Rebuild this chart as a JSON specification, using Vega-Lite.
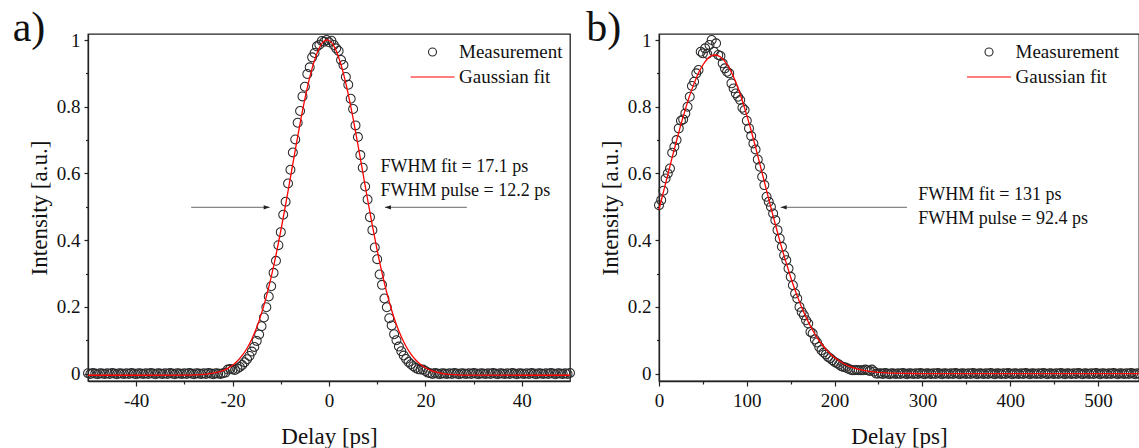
{
  "$schema": "https://vega.github.io/schema/vega-lite/v6.json",
  "autosize": {"type": "none"},
  "padding": {"left": 88, "top": 34, "right": 1051, "bottom": 414},
  "config": {
    "font": "Liberation Serif",
    "view": {"stroke": "#222", "strokeWidth": 1.3},
    "axis": {"grid": false, "labelFontSize": 19, "labelColor": "#111", "titleFontSize": 23, "titleFontWeight": "normal", "titleColor": "#111", "domainColor": "#222", "tickColor": "#222", "domainWidth": 1.3, "tickWidth": 1.2, "labelOverlap": false, "labelFlush": false},
    "legend": {"labelFontSize": 19, "labelColor": "#111", "labelFont": "Liberation Serif"},
    "title": {"font": "Liberation Serif"}
  },
  "datasets": {
    "Lmeas": [
      {"x":-50,"y":0.001},{"x":-49.5,"y":-0.001},{"x":-49,"y":0.002},{"x":-48.5,"y":0},{"x":-48,"y":-0.002},{"x":-47.5,"y":0.001},{"x":-47,"y":0},{"x":-46.5,"y":-0.001},
      {"x":-46,"y":0.001},{"x":-45.5,"y":-0.001},{"x":-45,"y":0.002},{"x":-44.5,"y":0},{"x":-44,"y":-0.002},{"x":-43.5,"y":0.001},{"x":-43,"y":0},{"x":-42.5,"y":-0.001},
      {"x":-42,"y":0.001},{"x":-41.5,"y":-0.001},{"x":-41,"y":0.002},{"x":-40.5,"y":0},{"x":-40,"y":-0.002},{"x":-39.5,"y":0.001},{"x":-39,"y":0},{"x":-38.5,"y":-0.001},
      {"x":-38,"y":0.001},{"x":-37.5,"y":-0.001},{"x":-37,"y":0.002},{"x":-36.5,"y":0},{"x":-36,"y":-0.002},{"x":-35.5,"y":0.001},{"x":-35,"y":0},{"x":-34.5,"y":-0.001},
      {"x":-34,"y":0.001},{"x":-33.5,"y":-0.001},{"x":-33,"y":0.002},{"x":-32.5,"y":0},{"x":-32,"y":-0.002},{"x":-31.5,"y":0.001},{"x":-31,"y":0},{"x":-30.5,"y":-0.001},
      {"x":-30,"y":0.001},{"x":-29.5,"y":-0.001},{"x":-29,"y":0.002},{"x":-28.5,"y":0},{"x":-28,"y":-0.002},{"x":-27.5,"y":0.001},{"x":-27,"y":0},{"x":-26.5,"y":-0.001},
      {"x":-26,"y":0.001},{"x":-25.5,"y":-0.001},{"x":-25,"y":0.002},{"x":-24.5,"y":0},{"x":-24,"y":-0.002},{"x":-23.5,"y":0.001},{"x":-23,"y":0},{"x":-22.5,"y":-0.001},
      {"x":-22,"y":0.001},{"x":-21.5,"y":0.003},
      {"x":-21,"y":0.012},{"x":-20.5,"y":0.014},{"x":-20,"y":0.012},{"x":-19.5,"y":0.011},{"x":-19,"y":0.015},{"x":-18.5,"y":0.02},{"x":-18,"y":0.026},{"x":-17.5,"y":0.034},
      {"x":-17,"y":0.043},{"x":-16.5,"y":0.053},{"x":-16,"y":0.066},{"x":-15.5,"y":0.08},{"x":-15,"y":0.098},{"x":-14.5,"y":0.117},{"x":-14,"y":0.142},{"x":-13.5,"y":0.168},
      {"x":-13,"y":0.199},{"x":-12.5,"y":0.231},{"x":-12,"y":0.262},{"x":-11.5,"y":0.302},{"x":-11,"y":0.338},{"x":-10.5,"y":0.385},{"x":-10,"y":0.424},{"x":-9.5,"y":0.476},
      {"x":-9,"y":0.515},{"x":-8.5,"y":0.57},{"x":-8,"y":0.611},{"x":-7.5,"y":0.663},{"x":-7,"y":0.702},{"x":-6.5,"y":0.752},{"x":-6,"y":0.787},{"x":-5.5,"y":0.831},
      {"x":-5,"y":0.86},{"x":-4.5,"y":0.898},{"x":-4,"y":0.918},{"x":-3.5,"y":0.948},{"x":-3,"y":0.961},{"x":-2.5,"y":0.981},{"x":-2,"y":0.986},{"x":-1.5,"y":0.997},
      {"x":-1,"y":0.995},{"x":-0.5,"y":1.0},{"x":0,"y":0.993},{"x":0.5,"y":0.998},{"x":1,"y":0.985},{"x":1.5,"y":0.975},{"x":2,"y":0.967},{"x":2.5,"y":0.94},
      {"x":3,"y":0.925},{"x":3.5,"y":0.889},{"x":4,"y":0.866},{"x":4.5,"y":0.824},{"x":5,"y":0.793},{"x":5.5,"y":0.744},{"x":6,"y":0.709},{"x":6.5,"y":0.655},
      {"x":7,"y":0.617},{"x":7.5,"y":0.561},{"x":8,"y":0.522},{"x":8.5,"y":0.469},{"x":9,"y":0.43},{"x":9.5,"y":0.378},{"x":10,"y":0.343},{"x":10.5,"y":0.297},
      {"x":11,"y":0.266},{"x":11.5,"y":0.225},{"x":12,"y":0.199},{"x":12.5,"y":0.166},{"x":13,"y":0.144},{"x":13.5,"y":0.118},{"x":14,"y":0.1},{"x":14.5,"y":0.081},
      {"x":15,"y":0.067},{"x":15.5,"y":0.054},{"x":16,"y":0.044},{"x":16.5,"y":0.035},{"x":17,"y":0.028},{"x":17.5,"y":0.022},{"x":18,"y":0.017},{"x":18.5,"y":0.013},
      {"x":19,"y":0.012},{"x":19.5,"y":0.012},{"x":20,"y":0.008},{"x":20.5,"y":0.003},
      {"x":21,"y":0.001},{"x":21.5,"y":-0.001},{"x":22,"y":0.002},{"x":22.5,"y":0},{"x":23,"y":-0.002},{"x":23.5,"y":0.001},{"x":24,"y":0},{"x":24.5,"y":-0.001},
      {"x":25,"y":0.001},{"x":25.5,"y":-0.001},{"x":26,"y":0.002},{"x":26.5,"y":0},{"x":27,"y":-0.002},{"x":27.5,"y":0.001},{"x":28,"y":0},{"x":28.5,"y":-0.001},
      {"x":29,"y":0.001},{"x":29.5,"y":-0.001},{"x":30,"y":0.002},{"x":30.5,"y":0},{"x":31,"y":-0.002},{"x":31.5,"y":0.001},{"x":32,"y":0},{"x":32.5,"y":-0.001},
      {"x":33,"y":0.001},{"x":33.5,"y":-0.001},{"x":34,"y":0.002},{"x":34.5,"y":0},{"x":35,"y":-0.002},{"x":35.5,"y":0.001},{"x":36,"y":0},{"x":36.5,"y":-0.001},
      {"x":37,"y":0.001},{"x":37.5,"y":-0.001},{"x":38,"y":0.002},{"x":38.5,"y":0},{"x":39,"y":-0.002},{"x":39.5,"y":0.001},{"x":40,"y":0},{"x":40.5,"y":-0.001},
      {"x":41,"y":0.001},{"x":41.5,"y":-0.001},{"x":42,"y":0.002},{"x":42.5,"y":0},{"x":43,"y":-0.002},{"x":43.5,"y":0.001},{"x":44,"y":0},{"x":44.5,"y":-0.001},
      {"x":45,"y":0.001},{"x":45.5,"y":-0.001},{"x":46,"y":0.002},{"x":46.5,"y":0},{"x":47,"y":-0.002},{"x":47.5,"y":0.001},{"x":48,"y":0},{"x":48.5,"y":-0.001},
      {"x":49,"y":0.001},{"x":49.5,"y":-0.001},{"x":50,"y":0.002}
    ],
    "Lfit": [
      {"x":-50,"y":-0.005},{"x":-30,"y":-0.0047},{"x":-28,"y":-0.004},{"x":-26,"y":-0.0025},{"x":-25,"y":-0.001},{"x":-24,"y":0.0012},{"x":-23,"y":0.0045},{"x":-22,"y":0.0092},
      {"x":-21,"y":0.0158},{"x":-20,"y":0.025},{"x":-19,"y":0.0376},{"x":-18,"y":0.0544},{"x":-17,"y":0.0761},{"x":-16,"y":0.1039},{"x":-15,"y":0.1384},{"x":-14,"y":0.1806},
      {"x":-13,"y":0.2308},{"x":-12,"y":0.2891},{"x":-11,"y":0.3552},{"x":-10,"y":0.4282},{"x":-9,"y":0.5065},{"x":-8,"y":0.588},{"x":-7,"y":0.6702},{"x":-6,"y":0.7498},
      {"x":-5,"y":0.8234},{"x":-4,"y":0.8878},{"x":-3,"y":0.9398},{"x":-2,"y":0.9768},{"x":-1,"y":0.9967},{"x":-0.4,"y":1.0},{"x":0,"y":0.9985},{"x":1,"y":0.9822},
      {"x":2,"y":0.9485},{"x":3,"y":0.8993},{"x":4,"y":0.8371},{"x":5,"y":0.765},{"x":6,"y":0.6864},{"x":7,"y":0.6044},{"x":8,"y":0.5226},{"x":9,"y":0.4434},
      {"x":10,"y":0.3693},{"x":11,"y":0.3017},{"x":12,"y":0.2418},{"x":13,"y":0.19},{"x":14,"y":0.1463},{"x":15,"y":0.1103},{"x":16,"y":0.0812},{"x":17,"y":0.0583},
      {"x":18,"y":0.0406},{"x":19,"y":0.0274},{"x":20,"y":0.0175},{"x":21,"y":0.0104},{"x":22,"y":0.0053},{"x":23,"y":0.0018},{"x":24,"y":-0.0006},{"x":26,"y":-0.0033},
      {"x":28,"y":-0.0044},{"x":30,"y":-0.0047},{"x":50,"y":-0.005}
    ],
    "Rmeas": [
      {"x":0,"y":0.505},{"x":2.5,"y":0.52},{"x":5,"y":0.548},{"x":7.5,"y":0.585},{"x":10,"y":0.6},{"x":12.5,"y":0.615},{"x":15,"y":0.662},{"x":17.5,"y":0.68},
      {"x":20,"y":0.7},{"x":22.5,"y":0.735},{"x":25,"y":0.758},{"x":27.5,"y":0.762},{"x":30,"y":0.78},{"x":32.5,"y":0.8},{"x":35,"y":0.83},{"x":37.5,"y":0.862},
      {"x":40,"y":0.875},{"x":42.5,"y":0.9},{"x":45,"y":0.91},{"x":47.5,"y":0.965},{"x":50,"y":0.96},{"x":52.5,"y":0.975},{"x":55,"y":0.958},{"x":57.5,"y":0.985},
      {"x":60,"y":1.0},{"x":62.5,"y":0.965},{"x":65,"y":0.99},{"x":67.5,"y":0.955},{"x":70,"y":0.952},{"x":72.5,"y":0.93},{"x":75,"y":0.915},{"x":77.5,"y":0.905},
      {"x":80,"y":0.9},{"x":82.5,"y":0.87},{"x":85,"y":0.855},{"x":87.5,"y":0.84},{"x":90,"y":0.83},{"x":92.5,"y":0.82},{"x":95,"y":0.797},{"x":97.5,"y":0.79},
      {"x":100,"y":0.758},{"x":102.5,"y":0.735},{"x":105,"y":0.712},{"x":107.5,"y":0.69},{"x":110,"y":0.672},{"x":112.5,"y":0.642},{"x":115,"y":0.62},{"x":117.5,"y":0.59},
      {"x":120,"y":0.565},{"x":122.5,"y":0.53},{"x":125,"y":0.515},{"x":127.5,"y":0.5},{"x":130,"y":0.48},{"x":132.5,"y":0.46},{"x":135,"y":0.43},{"x":137.5,"y":0.405},
      {"x":140,"y":0.38},{"x":142.5,"y":0.355},{"x":145,"y":0.34},{"x":147.5,"y":0.315},{"x":150,"y":0.29},{"x":152.5,"y":0.265},{"x":155,"y":0.24},{"x":157.5,"y":0.225},
      {"x":160,"y":0.2},{"x":162.5,"y":0.185},{"x":165,"y":0.175},{"x":167.5,"y":0.16},{"x":170,"y":0.15},{"x":172.5,"y":0.125},{"x":175,"y":0.12},{"x":177.5,"y":0.102},
      {"x":180,"y":0.093},{"x":182.5,"y":0.08},{"x":185,"y":0.07},{"x":187.5,"y":0.063},{"x":190,"y":0.057},{"x":192.5,"y":0.05},{"x":195,"y":0.046},{"x":197.5,"y":0.04},
      {"x":200,"y":0.035},{"x":202.5,"y":0.031},{"x":205,"y":0.027},{"x":207.5,"y":0.022},{"x":210,"y":0.02},{"x":212.5,"y":0.018},{"x":215,"y":0.015},{"x":217.5,"y":0.012},
      {"x":220,"y":0.01},{"x":222.5,"y":0.01},{"x":225,"y":0.011},{"x":227.5,"y":0.01},{"x":230,"y":0.01},{"x":232.5,"y":0.01},{"x":235,"y":0.012},{"x":237.5,"y":0.01},
      {"x":240,"y":0.008},{"x":242.5,"y":0.012},{"x":245,"y":0.006},{"x":247.5,"y":0.0},{"x":250,"y":0.0},
      {"x":252.5,"y":0.001},{"x":255,"y":-0.001},{"x":257.5,"y":0.002},{"x":260,"y":0},{"x":262.5,"y":-0.002},{"x":265,"y":0.001},{"x":267.5,"y":0},{"x":270,"y":-0.001},
      {"x":272.5,"y":0.001},{"x":275,"y":-0.001},{"x":277.5,"y":0.002},{"x":280,"y":0},{"x":282.5,"y":-0.002},{"x":285,"y":0.001},{"x":287.5,"y":0},{"x":290,"y":-0.001},
      {"x":292.5,"y":0.001},{"x":295,"y":-0.001},{"x":297.5,"y":0.002},{"x":300,"y":0},{"x":302.5,"y":-0.002},{"x":305,"y":0.001},{"x":307.5,"y":0},{"x":310,"y":-0.001},
      {"x":312.5,"y":0.001},{"x":315,"y":-0.001},{"x":317.5,"y":0.002},{"x":320,"y":0},{"x":322.5,"y":-0.002},{"x":325,"y":0.001},{"x":327.5,"y":0},{"x":330,"y":-0.001},
      {"x":332.5,"y":0.001},{"x":335,"y":-0.001},{"x":337.5,"y":0.002},{"x":340,"y":0},{"x":342.5,"y":-0.002},{"x":345,"y":0.001},{"x":347.5,"y":0},{"x":350,"y":-0.001},
      {"x":352.5,"y":0.001},{"x":355,"y":-0.001},{"x":357.5,"y":0.002},{"x":360,"y":0},{"x":362.5,"y":-0.002},{"x":365,"y":0.001},{"x":367.5,"y":0},{"x":370,"y":-0.001},
      {"x":372.5,"y":0.001},{"x":375,"y":-0.001},{"x":377.5,"y":0.002},{"x":380,"y":0},{"x":382.5,"y":-0.002},{"x":385,"y":0.001},{"x":387.5,"y":0},{"x":390,"y":-0.001},
      {"x":392.5,"y":0.001},{"x":395,"y":-0.001},{"x":397.5,"y":0.002},{"x":400,"y":0},{"x":402.5,"y":-0.002},{"x":405,"y":0.001},{"x":407.5,"y":0},{"x":410,"y":-0.001},
      {"x":412.5,"y":0.001},{"x":415,"y":-0.001},{"x":417.5,"y":0.002},{"x":420,"y":0},{"x":422.5,"y":-0.002},{"x":425,"y":0.001},{"x":427.5,"y":0},{"x":430,"y":-0.001},
      {"x":432.5,"y":0.001},{"x":435,"y":-0.001},{"x":437.5,"y":0.002},{"x":440,"y":0},{"x":442.5,"y":-0.002},{"x":445,"y":0.001},{"x":447.5,"y":0},{"x":450,"y":-0.001},
      {"x":452.5,"y":0.001},{"x":455,"y":-0.001},{"x":457.5,"y":0.002},{"x":460,"y":0},{"x":462.5,"y":-0.002},{"x":465,"y":0.001},{"x":467.5,"y":0},{"x":470,"y":-0.001},
      {"x":472.5,"y":0.001},{"x":475,"y":-0.001},{"x":477.5,"y":0.002},{"x":480,"y":0},{"x":482.5,"y":-0.002},{"x":485,"y":0.001},{"x":487.5,"y":0},{"x":490,"y":-0.001},
      {"x":492.5,"y":0.001},{"x":495,"y":-0.001},{"x":497.5,"y":0.002},{"x":500,"y":0},{"x":502.5,"y":-0.002},{"x":505,"y":0.001},{"x":507.5,"y":0},{"x":510,"y":-0.001},
      {"x":512.5,"y":0.001},{"x":515,"y":-0.001},{"x":517.5,"y":0.002},{"x":520,"y":0},{"x":522.5,"y":-0.002},{"x":525,"y":0.001},{"x":527.5,"y":0},{"x":530,"y":-0.001},
      {"x":532.5,"y":0.001},{"x":535,"y":-0.001},{"x":537.5,"y":0.002},{"x":540,"y":0},{"x":542.5,"y":-0.002},{"x":545,"y":0.001},{"x":547.5,"y":0}
    ],
    "Rfit": [
      {"x":0,"y":0.492},{"x":5,"y":0.544},{"x":10,"y":0.596},{"x":15,"y":0.648},{"x":20,"y":0.698},{"x":25,"y":0.747},{"x":30,"y":0.792},{"x":35,"y":0.834},
      {"x":40,"y":0.87},{"x":45,"y":0.901},{"x":50,"y":0.925},{"x":55,"y":0.943},{"x":60,"y":0.953},{"x":64,"y":0.955},{"x":70,"y":0.949},{"x":75,"y":0.936},
      {"x":80,"y":0.916},{"x":85,"y":0.889},{"x":90,"y":0.856},{"x":95,"y":0.817},{"x":100,"y":0.774},{"x":105,"y":0.728},{"x":110,"y":0.678},{"x":115,"y":0.627},
      {"x":120,"y":0.575},{"x":125,"y":0.523},{"x":130,"y":0.472},{"x":135,"y":0.423},{"x":140,"y":0.375},{"x":145,"y":0.331},{"x":150,"y":0.289},{"x":155,"y":0.25},
      {"x":160,"y":0.215},{"x":165,"y":0.183},{"x":170,"y":0.155},{"x":175,"y":0.13},{"x":180,"y":0.108},{"x":185,"y":0.0895},{"x":190,"y":0.0733},{"x":195,"y":0.0595},
      {"x":200,"y":0.0479},{"x":210,"y":0.0304},{"x":220,"y":0.0186},{"x":230,"y":0.0111},{"x":240,"y":0.0064},{"x":250,"y":0.0035},{"x":260,"y":0.0019},{"x":280,"y":0.0005},
      {"x":300,"y":0.0001},{"x":546.7,"y":0}
    ],
    "Larrows": [
      {"x":-28.6,"x2":-12.3,"y":0.4985,"dir":"right"},
      {"x":28.6,"x2":11.6,"y":0.4985,"dir":"left"}
    ],
    "Rarrows": [
      {"x":282.5,"x2":138.6,"y":0.4985,"dir":"left"}
    ],
    "Ltext": [
      {"x":10.7,"y":0.618,"text":"FWHM fit = 17.1 ps"},
      {"x":10.7,"y":0.548,"text":"FWHM pulse = 12.2 ps"}
    ],
    "Rtext": [
      {"x":295.3,"y":0.535,"text":"FWHM fit = 131 ps"},
      {"x":295.3,"y":0.4625,"text":"FWHM pulse = 92.4 ps"}
    ]
  },
  "hconcat": [
    {
      "width": 482,
      "height": 347,
      "title": {"text": "a)", "fontSize": 42, "fontWeight": "normal", "color": "#111", "anchor": "start", "frame": "group", "orient": "top", "baseline": "alphabetic", "offset": 0, "dx": -75.3, "dy": 52},
      "resolve": {"scale": {"x": "independent", "y": "independent"}, "axis": {"x": "independent", "y": "independent"}},
      "layer": [
        {
          "data": {"name": "Lmeas"},
          "mark": {"type": "point", "filled": false, "size": 80, "strokeWidth": 1.05, "opacity": 1},
          "encoding": {
            "x": {"field": "x", "type": "quantitative", "scale": {"domain": [-50, 50], "nice": false, "zero": false},
                  "axis": {"orient": "bottom", "values": [-40, -20, 0, 20, 40], "labelExpr": "'' + datum.value", "title": "Delay [ps]", "tickSize": 5, "labelPadding": 5, "titleBaseline": "alphabetic", "titleY": 62}},
            "y": {"field": "y", "type": "quantitative", "scale": {"domain": [-0.0222, 1.018], "nice": false, "zero": false},
                  "axis": {"orient": "left", "values": [0, 0.2, 0.4, 0.6, 0.8, 1], "labelExpr": "'' + datum.value", "title": "Intensity [a.u.]", "tickSize": 4, "labelPadding": 4, "titleBaseline": "alphabetic", "titleX": -42}},
            "stroke": {"datum": "Measurement", "type": "nominal", "scale": {"domain": ["Measurement", "Gaussian fit"], "range": ["#2a2a2a", "#ff0000"]},
                       "legend": {"title": null, "orient": "none", "legendX": 335, "legendY": 8.5, "symbolSize": 64, "symbolStrokeWidth": 1.1, "rowPadding": 5, "labelOffset": 17, "padding": 0}},
            "shape": {"datum": "Measurement", "type": "nominal", "scale": {"domain": ["Measurement", "Gaussian fit"], "range": ["circle", "M-5.5,0H5.5"]},
                      "legend": {"title": null, "orient": "none", "legendX": 335, "legendY": 8.5, "symbolSize": 64, "symbolStrokeWidth": 1.1, "rowPadding": 5, "labelOffset": 17, "padding": 0}}
          }
        },
        {
          "data": {"name": "Larrows"},
          "mark": {"type": "rule", "color": "#444", "strokeWidth": 0.8},
          "encoding": {
            "x": {"field": "x", "type": "quantitative", "scale": {"domain": [-50, 50], "nice": false, "zero": false}, "axis": null},
            "x2": {"field": "x2"},
            "y": {"field": "y", "type": "quantitative", "scale": {"domain": [-0.0222, 1.018], "nice": false, "zero": false}, "axis": null}
          }
        },
        {
          "data": {"name": "Larrows"},
          "transform": [{"filter": "datum.dir === 'right'"}],
          "mark": {"type": "point", "shape": "M0,0L-2,-0.7L-2,0.7Z", "filled": true, "size": 36, "color": "#222", "opacity": 1, "strokeWidth": 0},
          "encoding": {
            "x": {"field": "x2", "type": "quantitative", "scale": {"domain": [-50, 50], "nice": false, "zero": false}, "axis": null},
            "y": {"field": "y", "type": "quantitative", "scale": {"domain": [-0.0222, 1.018], "nice": false, "zero": false}, "axis": null}
          }
        },
        {
          "data": {"name": "Larrows"},
          "transform": [{"filter": "datum.dir === 'left'"}],
          "mark": {"type": "point", "shape": "M0,0L2,-0.7L2,0.7Z", "filled": true, "size": 36, "color": "#222", "opacity": 1, "strokeWidth": 0},
          "encoding": {
            "x": {"field": "x2", "type": "quantitative", "scale": {"domain": [-50, 50], "nice": false, "zero": false}, "axis": null},
            "y": {"field": "y", "type": "quantitative", "scale": {"domain": [-0.0222, 1.018], "nice": false, "zero": false}, "axis": null}
          }
        },
        {
          "data": {"name": "Ltext"},
          "mark": {"type": "text", "align": "left", "baseline": "middle", "fontSize": 18, "color": "#111"},
          "encoding": {
            "x": {"field": "x", "type": "quantitative", "scale": {"domain": [-50, 50], "nice": false, "zero": false}, "axis": null},
            "y": {"field": "y", "type": "quantitative", "scale": {"domain": [-0.0222, 1.018], "nice": false, "zero": false}, "axis": null},
            "text": {"field": "text"}
          }
        },
        {
          "data": {"name": "Lfit"},
          "mark": {"type": "line", "strokeWidth": 1.3, "interpolate": "monotone"},
          "encoding": {
            "x": {"field": "x", "type": "quantitative", "scale": {"domain": [-50, 50], "nice": false, "zero": false},
                  "axis": {"orient": "bottom", "values": [-30, -10, 10, 30], "labels": false, "domain": false, "tickSize": 3, "title": null}},
            "y": {"field": "y", "type": "quantitative", "scale": {"domain": [-0.0222, 1.018], "nice": false, "zero": false},
                  "axis": {"orient": "left", "values": [0.1, 0.3, 0.5, 0.7, 0.9], "labels": false, "domain": false, "tickSize": 2.5, "title": null}},
            "stroke": {"datum": "Gaussian fit", "type": "nominal", "scale": {"domain": ["Measurement", "Gaussian fit"], "range": ["#2a2a2a", "#ff0000"]},
                       "legend": {"title": null, "orient": "none", "legendX": 335, "legendY": 8.5, "symbolSize": 64, "symbolStrokeWidth": 1.1, "rowPadding": 5, "labelOffset": 17, "padding": 0}}
          }
        }
      ]
    },
    {
      "width": 480,
      "height": 347,
      "title": {"text": "b)", "fontSize": 42, "fontWeight": "normal", "color": "#111", "anchor": "start", "frame": "group", "orient": "top", "baseline": "alphabetic", "offset": 0, "dx": -72.7, "dy": 52},
      "resolve": {"scale": {"x": "independent", "y": "independent"}, "axis": {"x": "independent", "y": "independent"}},
      "layer": [
        {
          "data": {"name": "Rmeas"},
          "mark": {"type": "point", "filled": false, "size": 80, "strokeWidth": 1.05, "opacity": 1},
          "encoding": {
            "x": {"field": "x", "type": "quantitative", "scale": {"domain": [0, 546.7], "nice": false, "zero": false},
                  "axis": {"orient": "bottom", "values": [0, 100, 200, 300, 400, 500], "labelExpr": "'' + datum.value", "title": "Delay [ps]", "tickSize": 5, "labelPadding": 5, "titleBaseline": "alphabetic", "titleY": 62}},
            "y": {"field": "y", "type": "quantitative", "scale": {"domain": [-0.0222, 1.018], "nice": false, "zero": false},
                  "axis": {"orient": "left", "values": [0, 0.2, 0.4, 0.6, 0.8, 1], "labelExpr": "'' + datum.value", "title": "Intensity [a.u.]", "tickSize": 4, "labelPadding": 4, "titleBaseline": "alphabetic", "titleX": -42}},
            "stroke": {"datum": "Measurement", "type": "nominal", "scale": {"domain": ["Measurement", "Gaussian fit"], "range": ["#2a2a2a", "#ff0000"]},
                       "legend": {"title": null, "orient": "none", "legendX": 320.5, "legendY": 8.5, "symbolSize": 64, "symbolStrokeWidth": 1.1, "rowPadding": 5, "labelOffset": 17, "padding": 0}},
            "shape": {"datum": "Measurement", "type": "nominal", "scale": {"domain": ["Measurement", "Gaussian fit"], "range": ["circle", "M-5.5,0H5.5"]},
                      "legend": {"title": null, "orient": "none", "legendX": 320.5, "legendY": 8.5, "symbolSize": 64, "symbolStrokeWidth": 1.1, "rowPadding": 5, "labelOffset": 17, "padding": 0}}
          }
        },
        {
          "data": {"name": "Rarrows"},
          "mark": {"type": "rule", "color": "#444", "strokeWidth": 0.8},
          "encoding": {
            "x": {"field": "x", "type": "quantitative", "scale": {"domain": [0, 546.7], "nice": false, "zero": false}, "axis": null},
            "x2": {"field": "x2"},
            "y": {"field": "y", "type": "quantitative", "scale": {"domain": [-0.0222, 1.018], "nice": false, "zero": false}, "axis": null}
          }
        },
        {
          "data": {"name": "Rarrows"},
          "mark": {"type": "point", "shape": "M0,0L2,-0.7L2,0.7Z", "filled": true, "size": 36, "color": "#222", "opacity": 1, "strokeWidth": 0},
          "encoding": {
            "x": {"field": "x2", "type": "quantitative", "scale": {"domain": [0, 546.7], "nice": false, "zero": false}, "axis": null},
            "y": {"field": "y", "type": "quantitative", "scale": {"domain": [-0.0222, 1.018], "nice": false, "zero": false}, "axis": null}
          }
        },
        {
          "data": {"name": "Rtext"},
          "mark": {"type": "text", "align": "left", "baseline": "middle", "fontSize": 18, "color": "#111"},
          "encoding": {
            "x": {"field": "x", "type": "quantitative", "scale": {"domain": [0, 546.7], "nice": false, "zero": false}, "axis": null},
            "y": {"field": "y", "type": "quantitative", "scale": {"domain": [-0.0222, 1.018], "nice": false, "zero": false}, "axis": null},
            "text": {"field": "text"}
          }
        },
        {
          "data": {"name": "Rfit"},
          "mark": {"type": "line", "strokeWidth": 1.3, "interpolate": "monotone"},
          "encoding": {
            "x": {"field": "x", "type": "quantitative", "scale": {"domain": [0, 546.7], "nice": false, "zero": false},
                  "axis": {"orient": "bottom", "values": [50, 150, 250, 350, 450], "labels": false, "domain": false, "tickSize": 3, "title": null}},
            "y": {"field": "y", "type": "quantitative", "scale": {"domain": [-0.0222, 1.018], "nice": false, "zero": false},
                  "axis": {"orient": "left", "values": [0.1, 0.3, 0.5, 0.7, 0.9], "labels": false, "domain": false, "tickSize": 2.5, "title": null}},
            "stroke": {"datum": "Gaussian fit", "type": "nominal", "scale": {"domain": ["Measurement", "Gaussian fit"], "range": ["#2a2a2a", "#ff0000"]},
                       "legend": {"title": null, "orient": "none", "legendX": 320.5, "legendY": 8.5, "symbolSize": 64, "symbolStrokeWidth": 1.1, "rowPadding": 5, "labelOffset": 17, "padding": 0}}
          }
        }
      ]
    }
  ],
  "spacing": 89,
  "bounds": "flush",
  "resolve": {"scale": {"stroke": "independent", "shape": "independent"}, "legend": {"stroke": "independent", "shape": "independent"}}
}
